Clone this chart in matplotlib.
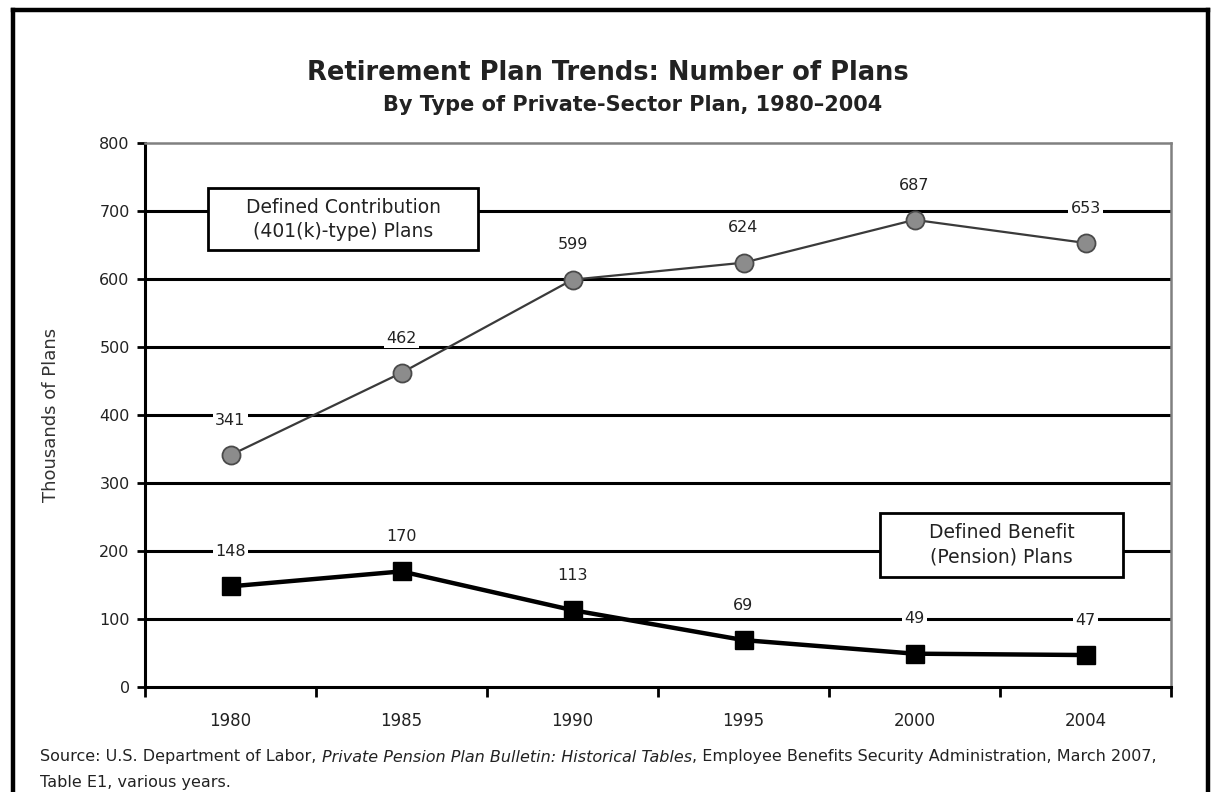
import matplotlib
matplotlib.use("Agg")
import matplotlib.pyplot as plt
from matplotlib.lines import Line2D
from matplotlib.patches import Rectangle

years = ["1980", "1985", "1990", "1995", "2000", "2004"]
dc_plans = [341, 462, 599, 624, 687, 653]   # defined contribution, thousands
db_plans = [148, 170, 113, 69, 49, 47]      # defined benefit, thousands
y_ticks = [0, 100, 200, 300, 400, 500, 600, 700, 800]

plt.rcParams['font.family'] = ['DejaVu Sans']

W, H = 1214, 792
fig = plt.figure(figsize=(W / 100, H / 100), dpi=100)
fig.patch.set_facecolor('white')


def fx(px):
    return px / W


def fy(py):
    return 1 - py / H


# outer frame (open at the bottom)
for xs, ys in [([13, 13], [10, 800]), ([13, 1208], [10, 10]), ([1208, 1208], [10, 800])]:
    fig.add_artist(Line2D([fx(v) for v in xs], [fy(v) for v in ys], color='black',
                          lw=3.2, transform=fig.transFigure, solid_capstyle='projecting'))

ax = fig.add_axes([fx(145), fy(687), fx(1171) - fx(145), fy(143) - fy(687)])
x = list(range(len(years)))

ax.set_xlim(-0.5, len(years) - 0.5)
ax.set_ylim(0, 800)

# horizontal gridlines
for v in y_ticks[1:-1]:
    ax.axhline(v, color='black', lw=2.2, zorder=1)

ax.spines['top'].set_color('#808080')
ax.spines['right'].set_color('#808080')
ax.spines['top'].set_linewidth(1.8)
ax.spines['right'].set_linewidth(1.8)
ax.spines['left'].set_linewidth(2.2)
ax.spines['bottom'].set_linewidth(2.2)

ax.set_yticks(y_ticks)
ax.tick_params(axis='y', direction='out', length=6, width=2, labelsize=11.5,
               labelcolor='#222222', pad=5)
ax.set_xticks(x)
ax.set_xticklabels(years)
ax.tick_params(axis='x', which='major', length=0, labelsize=12, labelcolor='#222222', pad=18)
ax.set_xticks([i - 0.5 for i in range(len(years) + 1)], minor=True)
ax.tick_params(axis='x', which='minor', direction='out', length=7, width=2)

ax.set_ylabel("Thousands of Plans", fontsize=13, color='#333333', labelpad=28)

# series
ax.plot(x, dc_plans, color='#3a3a3a', lw=1.6, marker='o', ms=13,
        markerfacecolor='#8c8c8c', markeredgecolor='#4a4a4a', markeredgewidth=1.3, zorder=4)
ax.plot(x, db_plans, color='black', lw=3.2, marker='s', ms=13,
        markerfacecolor='black', markeredgecolor='black', zorder=4)

label_box = dict(boxstyle='square,pad=0.15', facecolor='white', edgecolor='none')
for series in (dc_plans, db_plans):
    for xi, v in zip(x, series):
        ax.annotate(str(v), (xi, v), xytext=(0, 25), textcoords='offset points',
                    ha='center', va='center', fontsize=11.5, color='#222222',
                    bbox=label_box, zorder=5)

# series name boxes
ax.add_patch(Rectangle((-0.132, 643), 1.579, 91, facecolor='white', edgecolor='black',
                       lw=2, zorder=6))
ax.text(0.658, 688, "Defined Contribution\n(401(k)-type) Plans", ha='center', va='center',
        fontsize=13.5, color='#222222', linespacing=1.35, zorder=7)
ax.add_patch(Rectangle((3.798, 162), 1.421, 94, facecolor='white', edgecolor='black',
                       lw=2, zorder=6))
ax.text(4.51, 209, "Defined Benefit\n(Pension) Plans", ha='center', va='center',
        fontsize=13.5, color='#222222', linespacing=1.35, zorder=7)

# titles
fig.text(fx(608), fy(73), "Retirement Plan Trends: Number of Plans", ha='center',
         va='center', fontsize=18.5, fontweight='bold', color='#222222')
fig.text(fx(633), fy(105), "By Type of Private-Sector Plan, 1980\u20132004", ha='center',
         va='center', fontsize=15, fontweight='bold', color='#222222')

# source note, with the bulletin title in italics
src_parts = [
    ("Source: U.S. Department of Labor, ", 'normal'),
    ("Private Pension Plan Bulletin: Historical Tables", 'italic'),
    (", Employee Benefits Security Administration, March 2007,", 'normal'),
]
prev = fig.text(fx(40), fy(757), src_parts[0][0], ha='left', va='center',
                fontsize=11.5, color='#222222')
for txt, style in src_parts[1:]:
    prev = ax.annotate(txt, xy=(1, 0.5), xycoords=prev, ha='left', va='center',
                       fontsize=11.5, style=style, color='#222222', annotation_clip=False)
fig.text(fx(40), fy(782), "Table E1, various years.", ha='left', va='center',
         fontsize=11.5, color='#222222')

fig.savefig("out.png", dpi=100, facecolor='white')
